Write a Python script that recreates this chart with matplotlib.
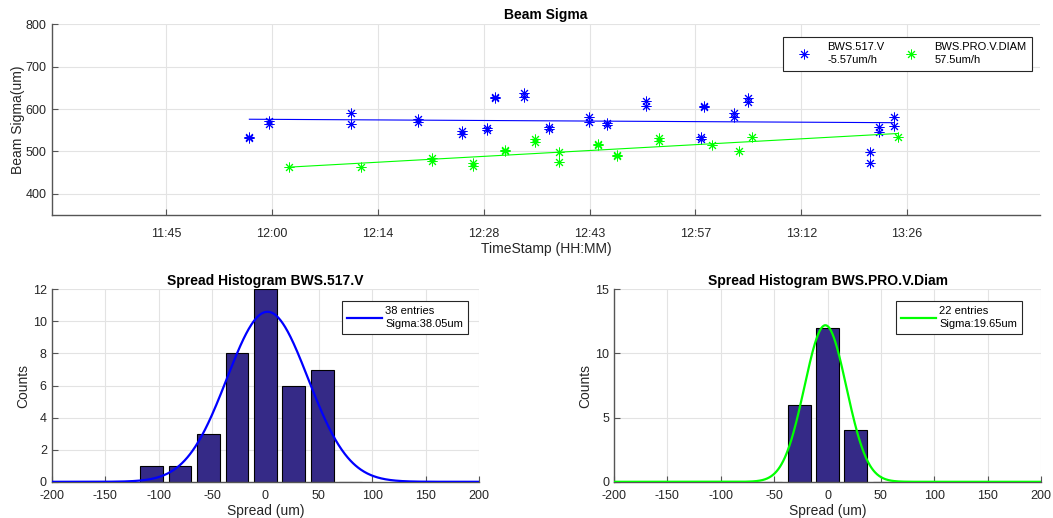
import numpy as np
import matplotlib
matplotlib.use("Agg")
import matplotlib.pyplot as plt

plt.rcParams['font.family'] = ['Liberation Sans', 'DejaVu Sans']
plt.rcParams['axes.unicode_minus'] = False

# ---- beam sigma time series ----
blue_times = ["11:56:54", "11:56:54", "11:59:36", "11:59:36", "12:10:42", "12:10:42",
              "12:19:54", "12:19:54", "12:25:48", "12:25:48", "12:29:12", "12:29:12",
              "12:30:18", "12:30:18", "12:34:18", "12:34:18", "12:37:42", "12:37:42",
              "12:43:06", "12:43:06", "12:45:36", "12:45:36", "12:50:54", "12:50:54",
              "12:58:18", "12:58:18", "12:58:48", "12:58:48", "13:02:48", "13:02:48",
              "13:04:48", "13:04:48", "13:21:18", "13:21:18", "13:22:36", "13:22:36",
              "13:24:36", "13:24:36"]
blue_sigma = [533, 531, 573, 565, 590, 564,
              576, 570, 549, 542, 555, 551,
              629, 625, 638, 628, 558, 552,
              582, 569, 567, 563, 619, 607,
              533, 529, 607, 604, 591, 582,
              625, 617, 499, 472, 558, 545,
              582, 561]

green_times = ["12:02:18", "12:12:06", "12:21:48", "12:21:48", "12:27:24", "12:27:24",
               "12:31:42", "12:31:42", "12:35:48", "12:35:48", "12:39:06", "12:39:06",
               "12:44:24", "12:44:24", "12:46:54", "12:46:54", "12:52:36", "12:52:36",
               "12:59:54", "13:03:30", "13:05:18", "13:25:12"]
green_sigma = [463, 463, 484, 477, 472, 466,
               504, 502, 530, 523, 498, 476,
               517, 515, 491, 489, 532, 525,
               516, 501, 535, 533]

blue_label = "BWS.517.V\n-5.57um/h"
green_label = "BWS.PRO.V.DIAM\n57.5um/h"
blue_slope = -5.57      # um per hour
green_slope = 57.5      # um per hour
blue_fit_start = 576
green_fit_start = 463

# ---- spread histograms ----
h1_centers = [-106.6, -80.0, -53.3, -26.6, 0.0, 26.6, 53.3, 80.0]
h1_counts = [1, 1, 3, 8, 12, 6, 7, 0]
h1_sigma = 38.05
h1_mu = 2.0
h1_peak = 10.6
h1_label = "38 entries\nSigma:38.05um"

h2_centers = [-53.3, -26.6, 0.0, 26.6, 53.3]
h2_counts = [0, 6, 12, 4, 0]
h2_sigma = 19.65
h2_mu = -2.0
h2_peak = 12.2
h2_label = "22 entries\nSigma:19.65um"

BLUE = "#0000ff"
GREEN = "#00ff00"
BAR = "#352a87"
AXC = "#262626"
SPINE = "#555555"
GRID = "#e3e3e3"


def to_day(s):
    h, m, sec = (int(v) for v in s.split(":"))
    return (h * 3600 + m * 60 + sec) / 86400.0


def hhmm(x, pos=None):
    total = int(np.floor(x * 1440 + 1e-6))
    return "%02d:%02d" % (total // 60, total % 60)


def style(ax, xpad):
    for side in ("top", "right"):
        ax.spines[side].set_visible(False)
    for side in ("left", "bottom"):
        ax.spines[side].set_color(SPINE)
        ax.spines[side].set_linewidth(1.0)
    ax.tick_params(direction="in", length=4, width=0.8, color=SPINE,
                   labelcolor=AXC, labelsize=9, top=False, right=False)
    ax.tick_params(axis="x", pad=xpad)
    ax.grid(True, color=GRID, linewidth=0.8)
    ax.set_axisbelow(True)


fig = plt.figure(figsize=(10.53, 5.18), dpi=100)

# ---- top: beam sigma vs time ----
ax = fig.add_axes([0.0491, 0.5849, 0.9386, 0.3682])
style(ax, 9)
star = (8, 2, 0)
bt = np.array([to_day(s) for s in blue_times])
gt = np.array([to_day(s) for s in green_times])
ax.plot(bt, blue_sigma, linestyle="none", marker=star, markersize=7,
        markeredgewidth=0.7, color=BLUE, label=blue_label)
ax.plot(gt, green_sigma, linestyle="none", marker=star, markersize=7,
        markeredgewidth=0.7, color=GREEN, label=green_label)

bx = np.array([bt.min(), bt.max()])
ax.plot(bx, blue_fit_start + blue_slope * (bx - bx[0]) * 24, color=BLUE, lw=0.8)
gx = np.array([gt.min(), gt.max()])
ax.plot(gx, green_fit_start + green_slope * (gx - gx[0]) * 24, color=GREEN, lw=0.8)

ax.set_xlim(to_day("11:30:00"), to_day("13:44:30"))
ax.set_ylim(350, 800)
ax.set_yticks([400, 500, 600, 700, 800])
ax.set_xticks(np.arange(0.49, 0.5651, 0.01))
ax.xaxis.set_major_formatter(matplotlib.ticker.FuncFormatter(hhmm))
ax.set_title("Beam Sigma", fontsize=10, fontweight="bold", pad=4)
ax.set_xlabel("TimeStamp (HH:MM)", fontsize=10, color=AXC, labelpad=2)
ax.set_ylabel("Beam Sigma(um)", fontsize=10, color=AXC, labelpad=0.5)
leg = ax.legend(loc="upper right", bbox_to_anchor=(0.980, 0.929),
                bbox_transform=fig.transFigure, ncol=2, fontsize=8,
                fancybox=False, framealpha=1, edgecolor=AXC,
                handlelength=2.8, handletextpad=0.7, columnspacing=1.0,
                borderpad=0.5, labelspacing=0.4, borderaxespad=0)
leg.get_frame().set_linewidth(0.8)
for t in leg.get_texts():
    t.set_linespacing(1.35)

# ---- bottom: spread histograms ----
xs = np.linspace(-200, 200, 801)


def hist_panel(rect, centers, counts, mu, sigma, peak, color, label,
               ymax, yticks, title, anchor):
    a = fig.add_axes(rect)
    style(a, 6)
    spacing = centers[1] - centers[0]
    a.bar(centers, counts, width=0.8 * spacing, color=BAR, edgecolor="black",
          linewidth=0.8, zorder=2)
    a.plot(xs, peak * np.exp(-(xs - mu) ** 2 / (2 * sigma ** 2)), color=color,
           lw=1.6, zorder=3, label=label)
    a.set_xlim(-200, 200)
    a.set_ylim(0, ymax)
    a.set_xticks(np.arange(-200, 201, 50))
    a.set_yticks(yticks)
    a.set_title(title, fontsize=10, fontweight="bold", pad=3)
    a.set_xlabel("Spread (um)", fontsize=10, color=AXC, labelpad=1)
    a.set_ylabel("Counts", fontsize=10, color=AXC, labelpad=2)
    lg = a.legend(loc="upper right", bbox_to_anchor=anchor,
                  bbox_transform=fig.transFigure, fontsize=8,
                  fancybox=False, framealpha=1, edgecolor=AXC,
                  handlelength=3.1, handletextpad=0.3, borderpad=0.45,
                  borderaxespad=0)
    lg.get_frame().set_linewidth(0.8)
    for t in lg.get_texts():
        t.set_linespacing(1.35)
    return a


hist_panel([0.0491, 0.0699, 0.4058, 0.3716], h1_centers, h1_counts, h1_mu,
           h1_sigma, h1_peak, BLUE, h1_label, 12, np.arange(0, 13, 2),
           "Spread Histogram BWS.517.V", (0.4444, 0.4189))
hist_panel([0.5831, 0.0699, 0.4055, 0.3716], h2_centers, h2_counts, h2_mu,
           h2_sigma, h2_peak, GREEN, h2_label, 15, [0, 5, 10, 15],
           "Spread Histogram BWS.PRO.V.Diam", (0.9706, 0.4189))

fig.savefig("out.png", dpi=100)
